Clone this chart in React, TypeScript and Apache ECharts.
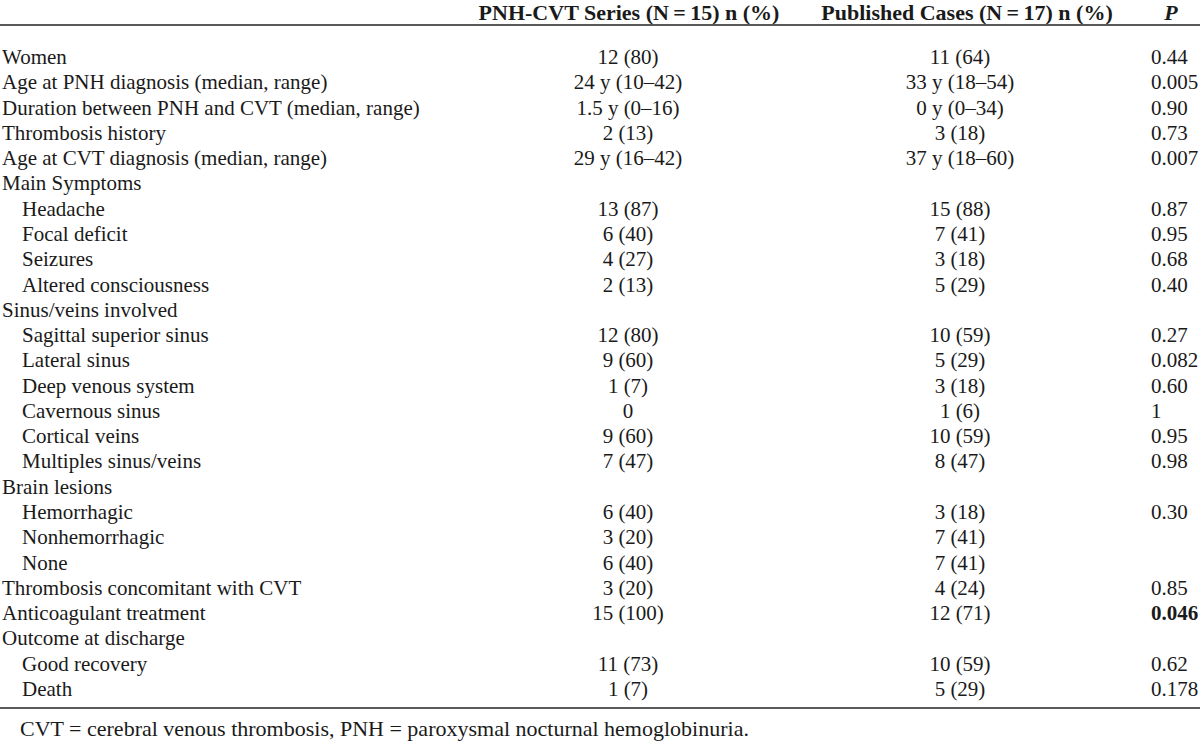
import React, { useEffect, useRef } from "react";
import * as echarts from "echarts";

const headers = ["PNH-CVT Series (N\u2009=\u200915) n (%)", "Published Cases (N\u2009=\u200917) n (%)", "P"];

const labels = [
  "Women",
  "Age at PNH diagnosis (median, range)",
  "Duration between PNH and CVT (median, range)",
  "Thrombosis history",
  "Age at CVT diagnosis (median, range)",
  "Main Symptoms",
  "Headache",
  "Focal deficit",
  "Seizures",
  "Altered consciousness",
  "Sinus/veins involved",
  "Sagittal superior sinus",
  "Lateral sinus",
  "Deep venous system",
  "Cavernous sinus",
  "Cortical veins",
  "Multiples sinus/veins",
  "Brain lesions",
  "Hemorrhagic",
  "Nonhemorrhagic",
  "None",
  "Thrombosis concomitant with CVT",
  "Anticoagulant treatment",
  "Outcome at discharge",
  "Good recovery",
  "Death",
];

const indented = [0, 0, 0, 0, 0, 0, 1, 1, 1, 1, 0, 1, 1, 1, 1, 1, 1, 0, 1, 1, 1, 0, 0, 0, 1, 1];

const seriesValues = [
  "12 (80)", "24 y (10\u201342)", "1.5 y (0\u201316)", "2 (13)", "29 y (16\u201342)", "",
  "13 (87)", "6 (40)", "4 (27)", "2 (13)", "",
  "12 (80)", "9 (60)", "1 (7)", "0", "9 (60)", "7 (47)", "",
  "6 (40)", "3 (20)", "6 (40)", "3 (20)", "15 (100)", "", "11 (73)", "1 (7)",
];

const publishedValues = [
  "11 (64)", "33 y (18\u201354)", "0 y (0\u201334)", "3 (18)", "37 y (18\u201360)", "",
  "15 (88)", "7 (41)", "3 (18)", "5 (29)", "",
  "10 (59)", "5 (29)", "3 (18)", "1 (6)", "10 (59)", "8 (47)", "",
  "3 (18)", "7 (41)", "7 (41)", "4 (24)", "12 (71)", "", "10 (59)", "5 (29)",
];

const pValues = [
  "0.44", "0.005", "0.90", "0.73", "0.007", "",
  "0.87", "0.95", "0.68", "0.40", "",
  "0.27", "0.082", "0.60", "1", "0.95", "0.98", "",
  "0.30", "", "", "0.85", "0.046", "", "0.62", "0.178",
];

const boldP = [22];

const footnote = "CVT = cerebral venous thrombosis, PNH = paroxysmal nocturnal hemoglobinuria.";

const FONT = "'Liberation Serif', 'Times New Roman', serif";

export default function App() {
  const ref = useRef<HTMLDivElement>(null);
  useEffect(() => {
    if (!ref.current) return;
    const chart = echarts.init(ref.current, undefined, { renderer: "svg" });
    const fill = "#1a1a1a";
    const size = 21;
    const els: any[] = [];
    const txt = (text: string, x: number, y: number, align: string, weight = "normal", style = "normal", fs = size) => ({
      type: "text",
      x,
      y,
      silent: true,
      style: {
        text,
        x: 0,
        y: 0,
        fill,
        font: `${style} ${weight} ${fs}px ${FONT}`,
        textAlign: align,
        textVerticalAlign: "middle",
        verticalAlign: "middle",
      },
    });
    const col2 = 628;
    const col3 = 960;
    const col4 = 1151;
    els.push(txt(headers[0], 629, 12, "center", "bold", "normal", 22));
    els.push(txt(headers[1], 967, 12, "center", "bold", "normal", 22));
    els.push(txt(headers[2], 1171, 12, "center", "bold", "italic", 22));
    els.push({ type: "line", silent: true, shape: { x1: 0, y1: 25, x2: 1200, y2: 25 }, style: { stroke: "#222", lineWidth: 1.5 } });
    els.push({ type: "line", silent: true, shape: { x1: 0, y1: 708, x2: 1200, y2: 708 }, style: { stroke: "#222", lineWidth: 1.5 } });
    const y0 = 57;
    const step = 25.28;
    labels.forEach((lab, i) => {
      const y = y0 + i * step;
      els.push(txt(lab, indented[i] ? 22 : 2, y, "left"));
      if (seriesValues[i]) els.push(txt(seriesValues[i], col2, y, "center"));
      if (publishedValues[i]) els.push(txt(publishedValues[i], col3, y, "center"));
      if (pValues[i]) els.push(txt(pValues[i], col4, y, "left", boldP.includes(i) ? "bold" : "normal"));
    });
    els.push(txt(footnote, 20, 728, "left", "normal", "normal", 22));
    chart.setOption({ animation: false, graphic: { elements: els } });
    return () => chart.dispose();
  }, []);
  return (
    <div
      ref={ref}
      style={{ position: "fixed", left: 0, top: 0, width: 1200, height: 742, background: "#fff" }}
    />
  );
}
